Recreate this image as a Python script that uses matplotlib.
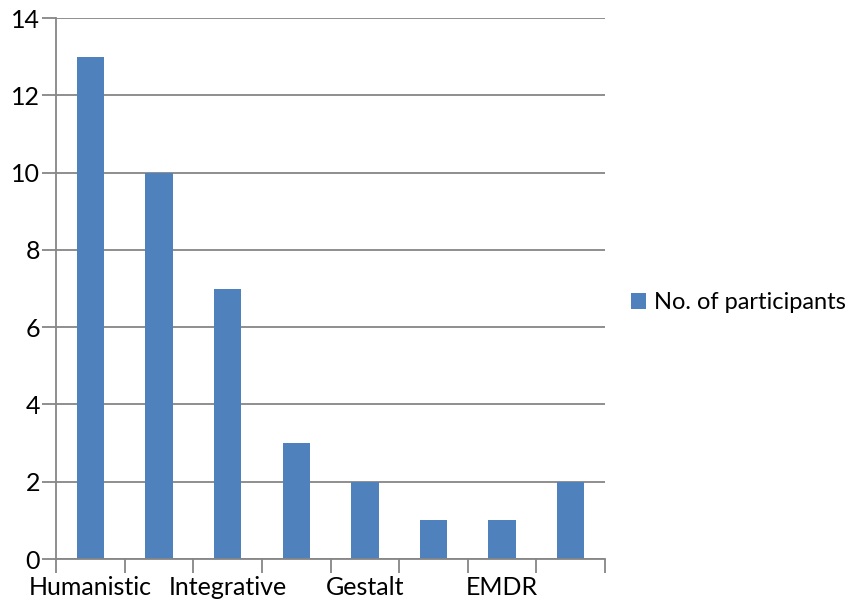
import matplotlib.pyplot as plt
import numpy as np

plt.rcParams['font.family'] = ['Lato', 'DejaVu Sans']

# only every other category name is printed on the axis
categories = ["Humanistic", "", "Integrative", "", "Gestalt", "", "EMDR", ""]
participants = [13, 10, 7, 3, 2, 1, 1, 2]
y_ticks = [0, 2, 4, 6, 8, 10, 12, 14]

blue = '#4f81bd'
grey = '#868686'

fig = plt.figure(figsize=(8.53, 6.05), dpi=100)
ax = fig.add_axes([0.0657, 0.076, 0.6436, 0.894])

x = np.arange(len(categories))
ax.bar(x, participants, width=0.4, color=blue, label='No. of participants', zorder=3)

ax.set_xlim(-0.5, len(categories) - 0.5)
ax.set_ylim(0, 14)
ax.set_yticks(y_ticks)
ax.yaxis.grid(True, color=grey, linewidth=1.3, zorder=0)

# category labels centred on the bars, tick marks on the boundaries
ax.set_xticks(x)
ax.set_xticklabels(categories, fontsize=18)
ax.tick_params(axis='x', length=0, pad=12)
ax.set_xticks(np.arange(len(categories) + 1) - 0.5, minor=True)
ax.tick_params(axis='x', which='minor', length=10, width=1.3, color=grey)
ax.tick_params(axis='y', length=10, width=1.3, color=grey, labelsize=18, pad=1.5)

for side in ['top', 'right']:
    ax.spines[side].set_visible(False)
for side in ['left', 'bottom']:
    ax.spines[side].set_color(grey)
    ax.spines[side].set_linewidth(1.3)
ax.spines['bottom'].set_zorder(4)

fig.legend(loc='center left', bbox_to_anchor=(0.715, 0.5), frameon=False,
           fontsize=17, handlelength=0.65, handleheight=0.65, handletextpad=0.3)

fig.savefig('out.png', dpi=100)
